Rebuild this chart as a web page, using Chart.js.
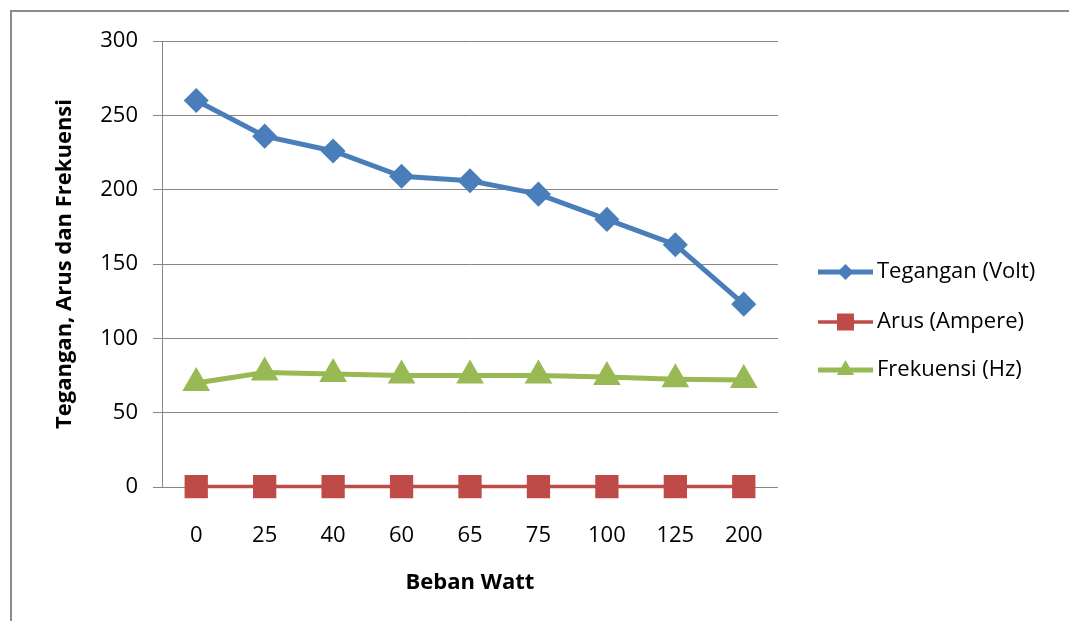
<!DOCTYPE html>
<html>
<head>
<meta charset="utf-8">
<script src="https://cdn.jsdelivr.net/npm/chart.js@4.4.1/dist/chart.umd.min.js"></script>
<style>
  html, body { margin: 0; padding: 0; background: #ffffff; }
  #wrap { position: relative; width: 1069px; height: 621px; overflow: hidden; }
  #frame { position: absolute; left: 10px; top: 10px; width: 1100px; height: 700px;
           border-top: 2px solid #8c8c8c; border-left: 2px solid #8c8c8c; }
  canvas { position: absolute; left: 0; top: 0; }
</style>
</head>
<body>
<div id="wrap">
  <div id="frame"></div>
  <canvas id="c" width="1069" height="621"></canvas>
</div>
<script>
const categories = ['0', '25', '40', '60', '65', '75', '100', '125', '200'];
const tegangan = [260, 236, 226, 209, 206, 197, 180, 163, 123];
const arus = [0.3, 0.3, 0.3, 0.3, 0.3, 0.3, 0.3, 0.3, 0.3];
const frekuensi = [70, 77, 76, 75, 75, 75, 74, 72.5, 72];
const seriesNames = ['Tegangan (Volt)', 'Arus (Ampere)', 'Frekuensi (Hz)'];
const yTicks = [0, 50, 100, 150, 200, 250, 300];

const FONT = '"Open Sans", Lato, sans-serif';
const GRID = '#868686';

function drawMarker(ctx, style, x, y, r, color) {
  ctx.save();
  ctx.fillStyle = color;
  ctx.beginPath();
  if (style === 'rectRot') {
    ctx.moveTo(x, y - r); ctx.lineTo(x + r, y); ctx.lineTo(x, y + r); ctx.lineTo(x - r, y);
  } else if (style === 'rect') {
    const s = r * Math.SQRT1_2;
    ctx.rect(x - s, y - s, 2 * s, 2 * s);
  } else {
    const w = r * Math.sqrt(3) / 2;
    ctx.moveTo(x, y - r); ctx.lineTo(x + w, y + r / 2); ctx.lineTo(x - w, y + r / 2);
  }
  ctx.closePath();
  ctx.fill();
  ctx.restore();
}

const legendPlugin = {
  id: 'customLegend',
  afterDraw(chart) {
    const ctx = chart.ctx;
    const ys = [272, 322, 370];
    const sizes = [8, 12, 10];
    chart.data.datasets.forEach((ds, i) => {
      const y = ys[i];
      ctx.save();
      ctx.strokeStyle = ds.borderColor;
      ctx.lineWidth = ds.borderWidth;
      ctx.beginPath();
      ctx.moveTo(818, y); ctx.lineTo(873, y);
      ctx.stroke();
      drawMarker(ctx, ds.pointStyle, 845.5, y, sizes[i], ds.backgroundColor);
      ctx.fillStyle = '#000000';
      ctx.font = '22px ' + FONT;
      ctx.textAlign = 'left';
      ctx.textBaseline = 'middle';
      ctx.fillText(ds.label, 877, y);
      ctx.restore();
    });
  }
};

new Chart(document.getElementById('c'), {
  type: 'line',
  data: {
    labels: categories,
    datasets: [
      { label: seriesNames[0], data: tegangan, borderColor: '#4A7EBB', backgroundColor: '#4A7EBB',
        borderWidth: 5, pointStyle: 'rectRot', pointRadius: 9, pointHoverRadius: 9, tension: 0, clip: false },
      { label: seriesNames[1], data: arus, borderColor: '#BE4B48', backgroundColor: '#BE4B48',
        borderWidth: 3.5, pointStyle: 'rect', pointRadius: 14, pointHoverRadius: 14, tension: 0, clip: false },
      { label: seriesNames[2], data: frekuensi, borderColor: '#98B954', backgroundColor: '#98B954',
        borderWidth: 5, pointStyle: 'triangle', pointRadius: 11, pointHoverRadius: 11, tension: 0, clip: false }
    ]
  },
  options: {
    responsive: false,
    animation: false,
    devicePixelRatio: 1,
    layout: { padding: { top: 41, right: 291, bottom: 0, left: 0 } },
    plugins: { legend: { display: false }, tooltip: { enabled: false } },
    scales: {
      x: {
        type: 'category',
        offset: true,
        grid: { display: false },
        border: { display: false },
        ticks: { color: '#000000', font: { family: FONT, size: 22 }, padding: 28, maxRotation: 0, autoSkip: false },
        title: { display: true, text: 'Beban Watt', color: '#000000',
                 font: { family: FONT, size: 22, weight: 'bold' }, padding: { top: 0, bottom: 25 } },
        afterFit(scale) { scale.height = 621 - 487; }
      },
      y: {
        min: 0, max: 300,
        afterBuildTicks(scale) { scale.ticks = yTicks.map(v => ({ value: v })); },
        grid: { color: GRID, lineWidth: 1, tickLength: 9, drawTicks: true },
        border: { display: true, color: GRID, width: 1 },
        ticks: { color: '#000000', font: { family: FONT, size: 22 }, padding: 15 },
        title: { display: true, text: 'Tegangan, Arus dan Frekuensi', color: '#000000',
                 font: { family: FONT, size: 22, weight: 'bold' }, padding: { top: 52, bottom: 0 } },
        afterFit(scale) { scale.width = 162; }
      }
    }
  },
  plugins: [legendPlugin]
});
</script>
</body>
</html>
